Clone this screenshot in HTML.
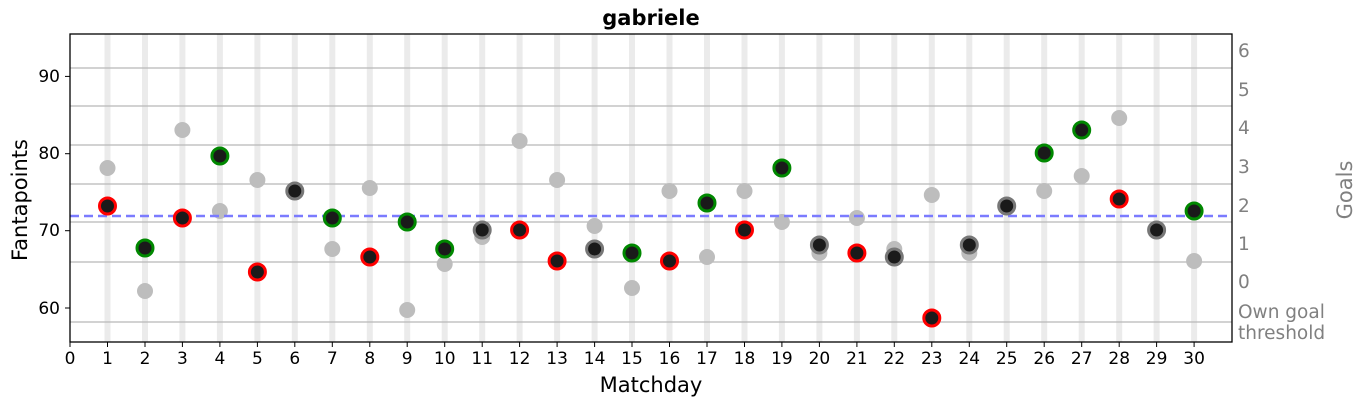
<!DOCTYPE html>
<html><head><meta charset="utf-8"><style>
body{margin:0;background:#fff}
svg text{font-family:"DejaVu Sans","Liberation Sans",sans-serif}
</style></head><body>
<svg width="1364" height="406" viewBox="0 0 1364 406" xmlns="http://www.w3.org/2000/svg">
<g fill="#ebebeb">
<rect x="104.5" y="34" width="6" height="308"/><rect x="142" y="34" width="6" height="308"/><rect x="179.4" y="34" width="6" height="308"/><rect x="216.9" y="34" width="6" height="308"/><rect x="254.4" y="34" width="6" height="308"/><rect x="291.8" y="34" width="6" height="308"/><rect x="329.3" y="34" width="6" height="308"/><rect x="366.8" y="34" width="6" height="308"/><rect x="404.2" y="34" width="6" height="308"/><rect x="441.7" y="34" width="6" height="308"/><rect x="479.2" y="34" width="6" height="308"/><rect x="516.6" y="34" width="6" height="308"/><rect x="554.1" y="34" width="6" height="308"/><rect x="591.6" y="34" width="6" height="308"/><rect x="629" y="34" width="6" height="308"/><rect x="666.5" y="34" width="6" height="308"/><rect x="704" y="34" width="6" height="308"/><rect x="741.5" y="34" width="6" height="308"/><rect x="778.9" y="34" width="6" height="308"/><rect x="816.4" y="34" width="6" height="308"/><rect x="853.9" y="34" width="6" height="308"/><rect x="891.3" y="34" width="6" height="308"/><rect x="928.8" y="34" width="6" height="308"/><rect x="966.3" y="34" width="6" height="308"/><rect x="1003.7" y="34" width="6" height="308"/><rect x="1041.2" y="34" width="6" height="308"/><rect x="1078.7" y="34" width="6" height="308"/><rect x="1116.2" y="34" width="6" height="308"/><rect x="1153.6" y="34" width="6" height="308"/><rect x="1191.1" y="34" width="6" height="308"/>
</g>
<g stroke="#b8b8b8" stroke-width="1.2">
<line x1="70" x2="1232" y1="68" y2="68"/><line x1="70" x2="1232" y1="106" y2="106"/><line x1="70" x2="1232" y1="145" y2="145"/><line x1="70" x2="1232" y1="184" y2="184"/><line x1="70" x2="1232" y1="222" y2="222"/><line x1="70" x2="1232" y1="262" y2="262"/><line x1="70" x2="1232" y1="322" y2="322"/>
</g>
<g fill="#bdbdbd">
<circle cx="107.5" cy="168" r="8"/><circle cx="145" cy="291" r="8"/><circle cx="182.4" cy="130" r="8"/><circle cx="219.9" cy="211" r="8"/><circle cx="257.4" cy="180" r="8"/><circle cx="332.3" cy="249" r="8"/><circle cx="369.8" cy="188" r="8"/><circle cx="407.2" cy="310" r="8"/><circle cx="444.7" cy="264" r="8"/><circle cx="482.2" cy="237" r="8"/><circle cx="519.6" cy="141" r="8"/><circle cx="557.1" cy="180" r="8"/><circle cx="594.6" cy="226" r="8"/><circle cx="632" cy="288" r="8"/><circle cx="669.5" cy="191" r="8"/><circle cx="707" cy="257" r="8"/><circle cx="744.5" cy="191" r="8"/><circle cx="781.9" cy="222" r="8"/><circle cx="819.4" cy="253" r="8"/><circle cx="856.9" cy="218" r="8"/><circle cx="894.3" cy="249" r="8"/><circle cx="931.8" cy="195" r="8"/><circle cx="969.3" cy="253" r="8"/><circle cx="1044.2" cy="191" r="8"/><circle cx="1081.7" cy="176" r="8"/><circle cx="1119.2" cy="118" r="8"/><circle cx="1194.1" cy="261" r="8"/>
</g>
<line x1="70" x2="1232" y1="216" y2="216" stroke="#7b7bff" stroke-width="2.5" stroke-dasharray="9,5"/>
<g fill="#1a1a1a" stroke-width="3">
<circle cx="107.5" cy="206" r="8" stroke="#f00"/><circle cx="145" cy="248" r="8" stroke="#080"/><circle cx="182.4" cy="218" r="8" stroke="#f00"/><circle cx="219.9" cy="156" r="8" stroke="#080"/><circle cx="257.4" cy="272" r="8" stroke="#f00"/><circle cx="294.8" cy="191" r="8" stroke="#777"/><circle cx="332.3" cy="218" r="8" stroke="#080"/><circle cx="369.8" cy="257" r="8" stroke="#f00"/><circle cx="407.2" cy="222" r="8" stroke="#080"/><circle cx="444.7" cy="249" r="8" stroke="#080"/><circle cx="482.2" cy="230" r="8" stroke="#777"/><circle cx="519.6" cy="230" r="8" stroke="#f00"/><circle cx="557.1" cy="261" r="8" stroke="#f00"/><circle cx="594.6" cy="249" r="8" stroke="#777"/><circle cx="632" cy="253" r="8" stroke="#080"/><circle cx="669.5" cy="261" r="8" stroke="#f00"/><circle cx="707" cy="203" r="8" stroke="#080"/><circle cx="744.5" cy="230" r="8" stroke="#f00"/><circle cx="781.9" cy="168" r="8" stroke="#080"/><circle cx="819.4" cy="245" r="8" stroke="#777"/><circle cx="856.9" cy="253" r="8" stroke="#f00"/><circle cx="894.3" cy="257" r="8" stroke="#777"/><circle cx="931.8" cy="318" r="8" stroke="#f00"/><circle cx="969.3" cy="245" r="8" stroke="#777"/><circle cx="1006.7" cy="206" r="8" stroke="#777"/><circle cx="1044.2" cy="153" r="8" stroke="#080"/><circle cx="1081.7" cy="130" r="8" stroke="#080"/><circle cx="1119.2" cy="199" r="8" stroke="#f00"/><circle cx="1156.6" cy="230" r="8" stroke="#777"/><circle cx="1194.1" cy="211" r="8" stroke="#080"/>
</g>
<rect x="70" y="34" width="1162" height="308" fill="none" stroke="#000" stroke-width="1.3"/>
<g stroke="#000" stroke-width="1">
<line x1="65" x2="70" y1="76.4" y2="76.4"/><line x1="65" x2="70" y1="153.7" y2="153.7"/><line x1="65" x2="70" y1="230.7" y2="230.7"/><line x1="65" x2="70" y1="308" y2="308"/>
<line x1="70" x2="70" y1="342" y2="347"/><line x1="107.5" x2="107.5" y1="342" y2="347"/><line x1="145" x2="145" y1="342" y2="347"/><line x1="182.4" x2="182.4" y1="342" y2="347"/><line x1="219.9" x2="219.9" y1="342" y2="347"/><line x1="257.4" x2="257.4" y1="342" y2="347"/><line x1="294.8" x2="294.8" y1="342" y2="347"/><line x1="332.3" x2="332.3" y1="342" y2="347"/><line x1="369.8" x2="369.8" y1="342" y2="347"/><line x1="407.2" x2="407.2" y1="342" y2="347"/><line x1="444.7" x2="444.7" y1="342" y2="347"/><line x1="482.2" x2="482.2" y1="342" y2="347"/><line x1="519.6" x2="519.6" y1="342" y2="347"/><line x1="557.1" x2="557.1" y1="342" y2="347"/><line x1="594.6" x2="594.6" y1="342" y2="347"/><line x1="632" x2="632" y1="342" y2="347"/><line x1="669.5" x2="669.5" y1="342" y2="347"/><line x1="707" x2="707" y1="342" y2="347"/><line x1="744.5" x2="744.5" y1="342" y2="347"/><line x1="781.9" x2="781.9" y1="342" y2="347"/><line x1="819.4" x2="819.4" y1="342" y2="347"/><line x1="856.9" x2="856.9" y1="342" y2="347"/><line x1="894.3" x2="894.3" y1="342" y2="347"/><line x1="931.8" x2="931.8" y1="342" y2="347"/><line x1="969.3" x2="969.3" y1="342" y2="347"/><line x1="1006.7" x2="1006.7" y1="342" y2="347"/><line x1="1044.2" x2="1044.2" y1="342" y2="347"/><line x1="1081.7" x2="1081.7" y1="342" y2="347"/><line x1="1119.2" x2="1119.2" y1="342" y2="347"/><line x1="1156.6" x2="1156.6" y1="342" y2="347"/><line x1="1194.1" x2="1194.1" y1="342" y2="347"/>
</g>
<g font-size="17" fill="#000" text-anchor="end">
<text x="60" y="82">90</text><text x="60" y="159">80</text><text x="60" y="236">70</text><text x="60" y="314">60</text>
</g>
<g font-size="17" fill="#000" text-anchor="middle">
<text x="70" y="364">0</text><text x="107.5" y="364">1</text><text x="145" y="364">2</text><text x="182.4" y="364">3</text><text x="219.9" y="364">4</text><text x="257.4" y="364">5</text><text x="294.8" y="364">6</text><text x="332.3" y="364">7</text><text x="369.8" y="364">8</text><text x="407.2" y="364">9</text><text x="444.7" y="364">10</text><text x="482.2" y="364">11</text><text x="519.6" y="364">12</text><text x="557.1" y="364">13</text><text x="594.6" y="364">14</text><text x="632" y="364">15</text><text x="669.5" y="364">16</text><text x="707" y="364">17</text><text x="744.5" y="364">18</text><text x="781.9" y="364">19</text><text x="819.4" y="364">20</text><text x="856.9" y="364">21</text><text x="894.3" y="364">22</text><text x="931.8" y="364">23</text><text x="969.3" y="364">24</text><text x="1006.7" y="364">25</text><text x="1044.2" y="364">26</text><text x="1081.7" y="364">27</text><text x="1119.2" y="364">28</text><text x="1156.6" y="364">29</text><text x="1194.1" y="364">30</text>
</g>
<g font-size="18.5" fill="#808080">
<text x="1238" y="57">6</text><text x="1238" y="96">5</text><text x="1238" y="134">4</text><text x="1238" y="173">3</text><text x="1238" y="212">2</text><text x="1238" y="250">1</text><text x="1238" y="288">0</text><text x="1238" y="318">Own goal</text><text x="1238" y="339">threshold</text>
</g>
<text x="651" y="392" font-size="21" text-anchor="middle">Matchday</text>
<text transform="translate(27,200) rotate(-90)" font-size="21" text-anchor="middle">Fantapoints</text>
<text transform="translate(1352,190) rotate(-90)" font-size="21" fill="#808080" text-anchor="middle">Goals</text>
<text x="651" y="25" font-size="21" font-weight="bold" text-anchor="middle">gabriele</text>
</svg>
</body></html>
